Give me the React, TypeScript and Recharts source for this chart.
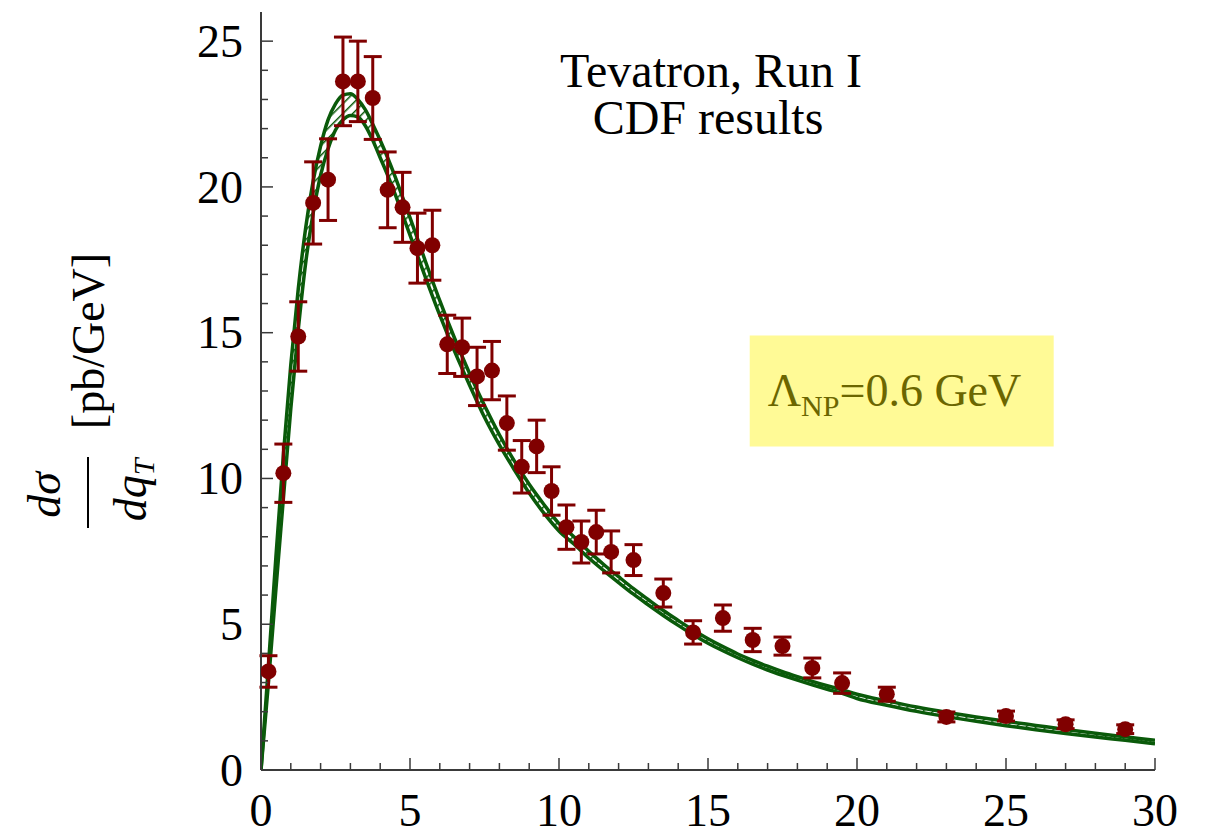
import {
  ComposedChart,
  XAxis,
  YAxis,
  Line,
  Area,
  Scatter,
  ErrorBar,
  ReferenceArea,
  Label,
} from "recharts";

const GREEN = "#0a5a0a";
const RED = "#800000";
const FRAME = "#3a3a3a";
const FONT = '"Liberation Serif", "Times New Roman", serif';

// CDF Run I data points (bin centre, value, symmetric error)
const qT = [
  0.25, 0.75, 1.25, 1.75, 2.25, 2.75, 3.25, 3.75, 4.25, 4.75, 5.25, 5.75,
  6.25, 6.75, 7.25, 7.75, 8.25, 8.75, 9.25, 9.75, 10.25, 10.75, 11.25, 11.75,
  12.5, 13.5, 14.5, 15.5, 16.5, 17.5, 18.5, 19.5, 21, 23, 25, 27, 29,
];
const sigma = [
  3.38, 10.18, 14.87, 19.45, 20.25, 23.62, 23.62, 23.05, 19.9, 19.3, 17.9, 18.0,
  14.6, 14.5, 13.5, 13.7, 11.9, 10.4, 11.1, 9.57, 8.33, 7.82, 8.16, 7.48,
  7.2, 6.07, 4.72, 5.21, 4.46, 4.25, 3.5, 2.98, 2.6, 1.82, 1.85, 1.57, 1.4,
];
const sigmaErr = [
  0.54, 1.0, 1.19, 1.41, 1.4, 1.52, 1.38, 1.42, 1.3, 1.2, 1.2, 1.2,
  1.0, 1.0, 1.0, 1.0, 0.93, 0.9, 0.9, 0.83, 0.76, 0.72, 0.75, 0.72,
  0.53, 0.48, 0.4, 0.45, 0.4, 0.31, 0.34, 0.35, 0.24, 0.17, 0.17, 0.15, 0.15,
];

// theory band: upper and lower edge
const curveX = [
  0, 0.25, 0.5, 0.75, 1, 1.25, 1.5, 1.75, 2, 2.25, 2.5, 2.75, 3, 3.25, 3.5, 3.75,
  4, 4.25, 4.5, 4.75, 5, 5.5, 6, 6.5, 7, 7.5, 8, 8.5, 9, 9.5, 10, 10.5, 11, 11.5,
  12, 12.5, 13, 13.5, 14, 14.5, 15, 15.5, 16, 16.5, 17, 17.5, 18, 18.5, 19, 19.5,
  20, 21, 22, 23, 24, 25, 26, 27, 28, 29, 30,
];
const curveHi = [
  0, 3.6, 7.3, 10.8, 13.9, 16.5, 18.6, 20.2, 21.4, 22.3, 22.85, 23.15, 23.2, 23.0, 22.65, 22.15,
  21.6, 21.0, 20.35, 19.65, 18.95, 17.5, 16.1, 14.8, 13.6, 12.5, 11.5, 10.6, 9.8, 9.1, 8.45, 8.0, 7.5, 7.05,
  6.63, 6.22, 5.84, 5.47, 5.13, 4.8, 4.5, 4.23, 3.98, 3.76, 3.56, 3.37, 3.2, 3.04, 2.89, 2.75,
  2.6, 2.37, 2.16, 1.98, 1.82, 1.67, 1.53, 1.39, 1.26, 1.14, 1.02,
];
const curveLo = [
  0, 3.0, 6.2, 9.3, 12.4, 15.1, 17.4, 19.1, 20.4, 21.3, 21.95, 22.3, 22.45, 22.4, 22.1, 21.6,
  21.0, 20.4, 19.75, 19.05, 18.35, 16.95, 15.6, 14.35, 13.2, 12.1, 11.15, 10.3, 9.5, 8.8, 8.2, 7.75, 7.27, 6.84,
  6.43, 6.03, 5.66, 5.3, 4.96, 4.64, 4.35, 4.09, 3.85, 3.63, 3.43, 3.25, 3.08, 2.92, 2.77, 2.63,
  2.45, 2.22, 2.01, 1.83, 1.67, 1.52, 1.38, 1.25, 1.13, 1.02, 0.9,
];

const xTicks = Array.from({ length: 31 }, (_, i) => i);
const yTicks = Array.from({ length: 26 }, (_, i) => i);

const points = qT.map((x, i) => ({ x, y: sigma[i], err: sigmaErr[i] }));
const curve = curveX.map((x, i) => ({
  x,
  hi: curveHi[i],
  lo: curveLo[i],
  band: [curveLo[i], curveHi[i]],
}));

function BottomTick({ x, y, payload }: any) {
  const major = payload.value % 5 === 0;
  return (
    <g>
      <line x1={x} x2={x} y1={y} y2={y - (major ? 12 : 7)} stroke={FRAME} strokeWidth={1.5} />
      {major && (
        <text x={x} y={y + 56} textAnchor="middle" fontSize={46} fontFamily={FONT} fill="#000">
          {payload.value}
        </text>
      )}
    </g>
  );
}

function TopTick({ x, y, payload }: any) {
  const major = payload.value % 5 === 0;
  return <line x1={x} x2={x} y1={y} y2={y + (major ? 12 : 7)} stroke={FRAME} strokeWidth={1.5} />;
}

function LeftTick({ x, y, payload }: any) {
  const major = payload.value % 5 === 0;
  return (
    <g>
      <line x1={x} x2={x + (major ? 12 : 7)} y1={y} y2={y} stroke={FRAME} strokeWidth={1.5} />
      {major && (
        <text x={x - 18} y={y} dy="0.34em" textAnchor="end" fontSize={46} fontFamily={FONT} fill="#000">
          {payload.value}
        </text>
      )}
    </g>
  );
}

function RightTick({ x, y, payload }: any) {
  const major = payload.value % 5 === 0;
  return <line x1={x} x2={x - (major ? 12 : 7)} y1={y} y2={y} stroke={FRAME} strokeWidth={1.5} />;
}

function BoxLabel({ viewBox }: any) {
  const { x, y } = viewBox;
  return (
    <text x={x + 18} y={y + 70} fontSize={46} fontFamily={FONT} fill="#6b6600">
      Λ
      <tspan fontSize={30} dy={10}>NP</tspan>
      <tspan dy={-10}>=0.6 GeV</tspan>
    </text>
  );
}

export default function App() {
  return (
    <div style={{ position: "absolute", left: 0, top: 0, width: 1205, height: 832, background: "#fff" }}>
      <ComposedChart width={1205} height={832} margin={{ top: 12, right: 50, bottom: 0, left: 0 }}>
        <XAxis
          dataKey="x"
          type="number"
          domain={[0, 30]}
          ticks={xTicks}
          interval={0}
          height={62}
          tickSize={0}
          tickMargin={0}
          tickLine={false}
          tick={(p: any) => <BottomTick {...p} />}
          axisLine={{ stroke: FRAME, strokeWidth: 2 }}
          allowDataOverflow
        />
        <XAxis
          xAxisId="top"
          orientation="top"
          dataKey="x"
          type="number"
          domain={[0, 30]}
          ticks={xTicks}
          interval={0}
          height={0}
          tickSize={0}
          tickMargin={0}
          tickLine={false}
          tick={(p: any) => <TopTick {...p} />}
          axisLine={{ stroke: FRAME, strokeWidth: 2 }}
          allowDataOverflow
        />
        <YAxis
          type="number"
          domain={[0, 26]}
          ticks={yTicks}
          interval={0}
          width={261}
          tickSize={0}
          tickMargin={0}
          tickLine={false}
          tick={(p: any) => <LeftTick {...p} />}
          axisLine={{ stroke: FRAME, strokeWidth: 2 }}
          allowDataOverflow
        />
        <YAxis
          yAxisId="right"
          orientation="right"
          type="number"
          domain={[0, 26]}
          ticks={yTicks}
          interval={0}
          width={0}
          tickSize={0}
          tickMargin={0}
          tickLine={false}
          tick={(p: any) => <RightTick {...p} />}
          axisLine={{ stroke: FRAME, strokeWidth: 2 }}
          allowDataOverflow
        />
        <ReferenceArea x1={16.4} x2={26.6} y1={11.1} y2={14.9} fill="#fffa96" fillOpacity={1} stroke="none">
          <Label content={BoxLabel} />
        </ReferenceArea>
        <Area
          data={curve}
          dataKey="band"
          type="monotone"
          fill="url(#hatch)"
          fillOpacity={1}
          stroke="none"
          isAnimationActive={false}
        />
        <Line data={curve} dataKey="hi" type="monotone" stroke={GREEN} strokeWidth={3.5} dot={false} isAnimationActive={false} />
        <Line data={curve} dataKey="lo" type="monotone" stroke={GREEN} strokeWidth={3.5} dot={false} isAnimationActive={false} />
        <Scatter
          data={points}
          dataKey="y"
          fill={RED}
          isAnimationActive={false}
          shape={(p: any) => <circle cx={p.cx} cy={p.cy} r={8} fill={RED} />}
        >
          <ErrorBar dataKey="err" direction="y" width={9} strokeWidth={3} stroke={RED} />
        </Scatter>
      </ComposedChart>

      <svg
        width={1205}
        height={832}
        style={{ position: "absolute", left: 0, top: 0, pointerEvents: "none" }}
      >
        <defs>
          <pattern id="hatch" width="7" height="7" patternUnits="userSpaceOnUse" patternTransform="rotate(45)">
            <line x1="0" y1="0" x2="0" y2="7" stroke={GREEN} strokeWidth="3" />
          </pattern>
        </defs>
        <g fontFamily={FONT} fill="#000">
          <text x={711} y={87} textAnchor="middle" fontSize={48}>Tevatron, Run I</text>
          <text x={708} y={134} textAnchor="middle" fontSize={48}>CDF results</text>
          <text transform="translate(104,341) rotate(-90)" textAnchor="middle" fontSize={46}>[pb/GeV]</text>
          <text transform="translate(60,495) rotate(-90)" textAnchor="middle" fontSize={46} fontStyle="italic">dσ</text>
          <line x1={88} x2={88} y1={457} y2={528} stroke="#000" strokeWidth={2} />
          <text transform="translate(146,490) rotate(-90)" textAnchor="middle" fontSize={46} fontStyle="italic">
            dq<tspan fontSize={30} dy={8}>T</tspan>
          </text>
        </g>
      </svg>
    </div>
  );
}
